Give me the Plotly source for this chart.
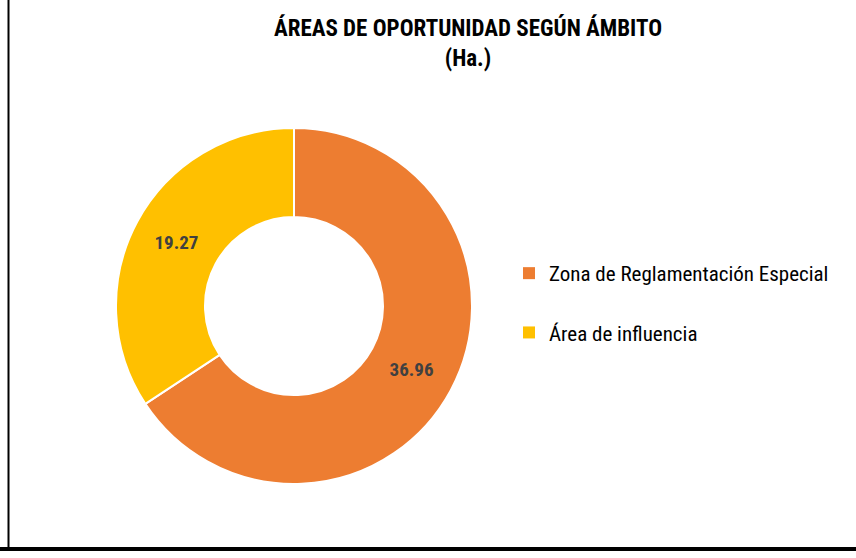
import plotly.graph_objects as go

labels = ["Zona de Reglamentación Especial", "Área de influencia"]
values = [36.96, 19.27]
colors = ["#ED7D31", "#FFC000"]
title_text = "<b>ÁREAS DE OPORTUNIDAD SEGÚN ÁMBITO<br>(Ha.)</b>"

FONT = "Liberation Sans Narrow, Roboto Condensed, DejaVu Sans Condensed, Arial Narrow, sans-serif"
W, H = 856, 558

fig = go.Figure()
fig.add_trace(go.Pie(
    labels=labels, values=values, hole=0.5, sort=False, direction="clockwise", rotation=0,
    marker=dict(colors=colors, line=dict(color="white", width=2)),
    textinfo="value", texttemplate="<b>%{value:.2f}</b>", textposition="inside",
    insidetextorientation="horizontal",
    textfont=dict(family=FONT, size=19, color="#404040"),
    showlegend=False,
    domain=dict(x=[116 / W, 472 / W], y=[(H - 485) / H, (H - 127) / H]),
    hoverinfo="label+value",
))
for i, (lab, col) in enumerate(zip(labels, colors)):
    fig.add_trace(go.Scatter(
        x=[None], y=[None], mode="markers", name=lab, legendgroup=f"g{i}",
        marker=dict(symbol="square", size=10, color=col), showlegend=True,
    ))

fig.update_layout(
    width=W, height=H, margin=dict(l=0, r=0, t=0, b=0),
    paper_bgcolor="white", plot_bgcolor="white",
    title=dict(text=title_text, x=468 / W, xanchor="center", y=1 - 36 / H, yanchor="top",
               font=dict(family=FONT, size=23, color="#000000")),
    xaxis=dict(visible=False), yaxis=dict(visible=False),
    legend=dict(x=509 / W, y=1 - 253 / H, xanchor="left", yanchor="top",
                font=dict(family=FONT, size=21, color="#000000"),
                tracegroupgap=29, itemsizing="constant", bgcolor="rgba(0,0,0,0)"),
    shapes=[
        dict(type="line", xref="paper", yref="paper", x0=8.5 / W, x1=8.5 / W, y0=(H - 549) / H, y1=1,
             line=dict(color="black", width=2)),
        dict(type="line", xref="paper", yref="paper", x0=0, x1=1, y0=(H - 549) / H, y1=(H - 549) / H,
             line=dict(color="black", width=4)),
    ],
)
fig.write_html("out.html", config={"displayModeBar": False},
               post_script="document.body.style.margin='0';")
